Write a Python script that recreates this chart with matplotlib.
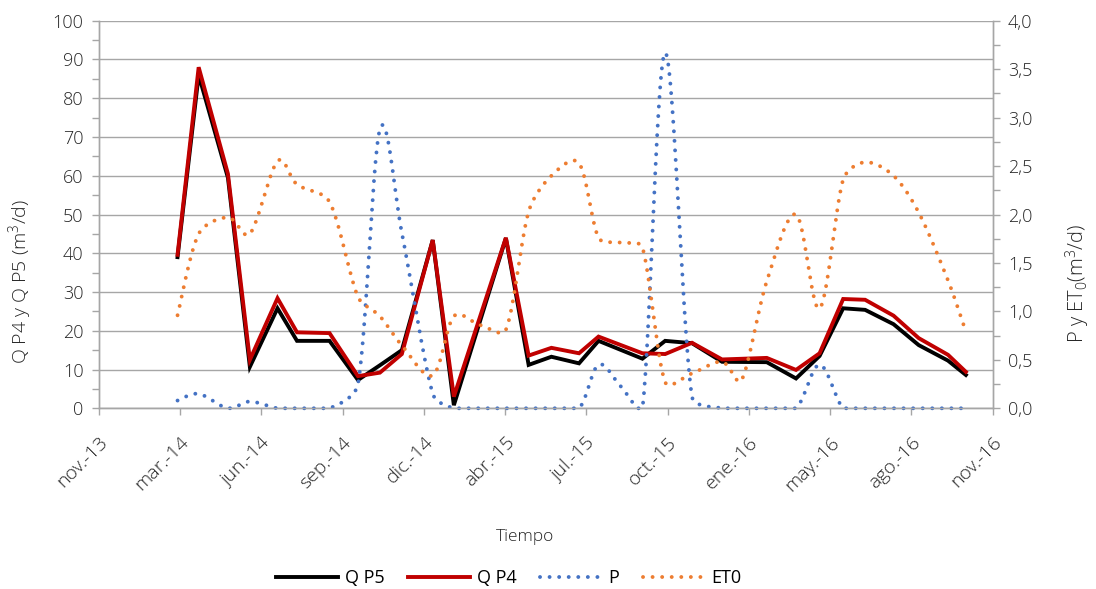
import numpy as np
import pandas as pd
import matplotlib
matplotlib.use("Agg")
import matplotlib.pyplot as plt
import matplotlib.dates as mdates

plt.rcParams['font.family'] = ['Open Sans', 'DejaVu Sans']
plt.rcParams['mathtext.fontset'] = 'custom'
plt.rcParams['mathtext.rm'] = 'Open Sans:light'
plt.rcParams['mathtext.default'] = 'regular'

# fechas de muestreo
fechas = ['2014-02-27', '2014-03-25', '2014-04-30', '2014-05-27', '2014-06-30',
          '2014-07-24', '2014-09-02', '2014-10-07', '2014-11-03', '2014-11-30',
          '2015-01-07', '2015-02-02', '2015-03-06', '2015-04-07', '2015-05-05',
          '2015-06-02', '2015-07-06', '2015-07-30', '2015-08-26', '2015-09-22',
          '2015-10-20', '2015-11-22', '2015-12-29', '2016-01-22', '2016-02-22',
          '2016-03-29', '2016-04-27', '2016-05-26', '2016-06-22', '2016-07-27',
          '2016-08-27', '2016-10-02', '2016-10-24']

nan = np.nan
q_p5 = [39.0, 86.0, 59.5, 10.7, 25.8, 17.4, 17.4, 7.3, 11.1, 15.0,
        43.4, 0.8, nan, 43.9, 11.2, 13.3, 11.6, 17.4, nan, 12.8,
        17.4, 16.8, 12.0, nan, 11.9, 7.7, 13.5, 25.8, 25.4, 21.7,
        16.3, 12.3, 8.6]
q_p4 = [39.6, 88.0, 60.5, 12.5, 28.4, 19.6, 19.4, 8.3, 9.2, 14.0,
        43.4, 3.0, nan, 44.0, 13.6, 15.6, 14.2, 18.5, nan, 14.2,
        14.0, 16.9, 12.6, nan, 13.0, 9.9, 14.2, 28.2, 28.0, 23.9,
        18.1, 13.8, 9.4]
p = [0.08, 0.15, 0.0, 0.07, 0.0, 0.0, 0.0, 0.25, 2.88, 1.81,
     0.15, 0.0, 0.0, 0.0, 0.0, 0.0, 0.0, 0.45, 0.23, 0.0,
     3.67, 0.12, 0.0, 0.0, 0.0, 0.0, 0.45, 0.0, 0.0, 0.0,
     0.0, 0.0, 0.0]
et0 = [0.96, 1.80, 1.97, 1.80, 2.55, 2.31, 2.13, 1.15, 0.95, 0.65,
       0.34, 0.95, 0.86, 0.81, 2.03, 2.40, 2.53, 1.76, 1.71, 1.66,
       0.27, 0.36, 0.48, 0.29, 1.31, 2.00, 1.03, 2.36, 2.54, 2.40,
       2.02, 1.32, 0.79]

etiquetas_x = ['nov.-13', 'mar.-14', 'jun.-14', 'sep.-14', 'dic.-14', 'abr.-15',
               'jul.-15', 'oct.-15', 'ene.-16', 'may.-16', 'ago.-16', 'nov.-16']

W, H = 1096, 589
fig = plt.figure(figsize=(W / 100, H / 100), dpi=100)
L, R, T, B = 98.7, 992.7, 20.7, 408.3
ax = fig.add_axes([L / W, 1 - B / H, (R - L) / W, (B - T) / H])
ax2 = ax.twinx()

x = mdates.date2num(pd.to_datetime(fechas))
x0 = mdates.date2num(pd.Timestamp('2013-11-22'))
x1 = x0 + 1100
y1max, y2max = 100, 4.0


def suavizar(xs, ys, ymax, n=30, cap=0.35):
    # curva suavizada (Bezier) calculada en pixeles, con asas limitadas
    sx = (np.asarray(xs) - x0) / (x1 - x0) * (R - L)
    sy = np.asarray(ys) / ymax * (B - T)
    pts = np.column_stack([sx, sy])
    k = len(pts)
    t = np.linspace(0, 1, n)[:, None]
    segs = []
    for i in range(k - 1):
        q0 = pts[max(i - 1, 0)]
        q1 = pts[i]
        q2 = pts[i + 1]
        q3 = pts[min(i + 2, k - 1)]
        lseg = np.hypot(*(q2 - q1))
        a1 = (q2 - q0) / 6
        a2 = (q3 - q1) / 6
        for a in (a1, a2):
            la = np.hypot(*a)
            if la > cap * lseg:
                a *= cap * lseg / la
        c1 = q1 + a1
        c2 = q2 - a2
        seg = (1 - t) ** 3 * q1 + 3 * (1 - t) ** 2 * t * c1 + 3 * (1 - t) * t ** 2 * c2 + t ** 3 * q2
        segs.append(seg if i == 0 else seg[1:])
    c = np.vstack(segs)
    yy = np.clip(c[:, 1], 0, None)
    return c[:, 0] / (R - L) * (x1 - x0) + x0, yy / (B - T) * ymax


q5 = np.array(q_p5)
q4 = np.array(q_p4)
m5 = ~np.isnan(q5)
m4 = ~np.isnan(q4)
ax.plot(x[m5], q5[m5], color='black', lw=2.8, label='Q P5', solid_joinstyle='miter', zorder=3)
ax.plot(x[m4], q4[m4], color='#C00000', lw=2.8, label='Q P4', solid_joinstyle='miter', zorder=4)

dot = (0, (0.01, 2.45))
xs, ys = suavizar(x, p, y2max)
ax2.plot(xs, ys, color='#4472C4', lw=2.8, linestyle=dot, dash_capstyle='round', label='P', clip_on=False)
xs, ys = suavizar(x, et0, y2max)
ax2.plot(xs, ys, color='#ED7D31', lw=2.8, linestyle=dot, dash_capstyle='round', label='ET0', clip_on=False)

gris = '#A6A6A6'
texto = '#262626'
ax.set_xlim(x0, x1)
ax.set_ylim(0, y1max)
ax2.set_ylim(0, y2max)
ax.set_xticks([x0 + 100 * i for i in range(len(etiquetas_x))])
ax.set_xticklabels(etiquetas_x, rotation=45, ha='right', rotation_mode='anchor')
ax.set_yticks(np.arange(0, 101, 10))
ax.set_yticks(np.arange(0, 101, 5), minor=True)
ax2.set_yticks(np.arange(0, 4.01, 0.5))
ax2.set_yticks(np.arange(0, 4.01, 0.25), minor=True)
ax2.set_yticklabels([f'{v:.1f}'.replace('.', ',') for v in np.arange(0, 4.01, 0.5)])

ax.grid(axis='y', color=gris, lw=1.0)
ax.set_axisbelow(True)
for a in (ax, ax2):
    a.spines['top'].set_visible(False)
    for s in ('left', 'right', 'bottom'):
        a.spines[s].set_color(gris)
        a.spines[s].set_linewidth(1.0)
ax.tick_params(axis='both', which='both', color=gris, width=1.0, length=5, labelcolor=texto, labelsize=13)
ax.tick_params(axis='x', pad=13, labelsize=14)
ax.tick_params(axis='y', pad=6)
ax2.tick_params(axis='y', which='both', color=gris, width=1.0, length=5, labelcolor=texto, labelsize=13, pad=6)
for lab in ax.get_xticklabels() + ax.get_yticklabels() + ax2.get_yticklabels():
    lab.set_fontweight('light')

fig.text(20 / W, 1 - 282 / H, 'Q P4 y Q P5 (m$^3$/d)', rotation=90, ha='center', va='center',
         fontsize=14, color=texto, fontweight='light')
fig.text(1078 / W, 1 - 283 / H, 'P y ET$_0$(m$^3$/d)', rotation=90, ha='center', va='center',
         fontsize=14.5, color=texto, fontweight='light')
fig.text(525 / W, 1 - 537 / H, 'Tiempo', ha='center', va='center', fontsize=12.5, color=texto,
         fontweight='light')

h1, l1 = ax.get_legend_handles_labels()
h2, l2 = ax2.get_legend_handles_labels()
fig.legend(h1 + h2, l1 + l2, loc='center', bbox_to_anchor=(509 / W, 1 - 578 / H), ncol=4,
           frameon=False, fontsize=13, handlelength=3.4, handletextpad=0.4, columnspacing=1.3)

fig.savefig('out.png', dpi=100)
